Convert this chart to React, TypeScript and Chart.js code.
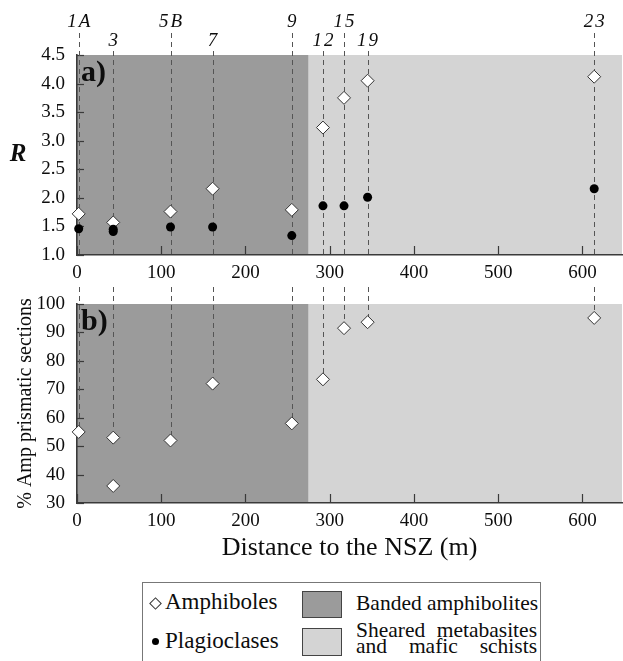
import React, { useEffect, useRef } from "react";
import { Chart, registerables } from "chart.js";
Chart.register(...registerables);

const FONT = "'Liberation Serif', 'DejaVu Serif', serif";
const INK = "#0d0d0d";
const AXIS = "#3a3a3a";
const DASH = "#555555";

// Samples (distance to the NSZ, m)
const sampleNames = ["1A", "3", "5B", "7", "9", "12", "15", "19", "23"];
const sampleDistance = [2, 43, 111, 161, 255, 292, 317, 345, 614];
const labelRow = [0, 1, 0, 1, 0, 1, 0, 1, 0];

// Panel a) shape ratio R
const amphiboleR = [1.72, 1.57, 1.76, 2.16, 1.79, 3.23, 3.75, 4.05, 4.12];
const plagDistance = [2, 43, 43, 111, 161, 255, 292, 317, 345, 614];
const plagioclaseR = [1.46, 1.45, 1.41, 1.49, 1.49, 1.34, 1.86, 1.86, 2.01, 2.16];

// Panel b) % Amp prismatic sections
const prismDistance = [2, 43, 43, 111, 161, 255, 292, 317, 345, 614];
const prismPercent = [55, 53, 36, 52, 72, 58, 73.5, 91.5, 93.6, 95.1];

// Lithological zones
const zoneStart = [0, 275];
const zoneEnd = [275, 647];
const zoneNames = ["Banded amphibolites", "Sheared metabasites and mafic schists"];
const zoneColors = ["#9b9b9b", "#d4d4d4"];

// Axes
const distanceMin = 0;
const distanceMax = 647;
const distanceStep = 100;
const rMin = 1.0;
const rMax = 4.5;
const rStep = 0.5;
const pctMin = 30;
const pctMax = 100;
const pctStep = 10;

function panelPlugin(panel: "a" | "b") {
  return {
    id: "panel_" + panel,
    beforeDraw(chart: any) {
      const { ctx, chartArea } = chart;
      const xs = chart.scales.x;
      ctx.save();
      zoneStart.forEach((s, i) => {
        const x0 = xs.getPixelForValue(s);
        const x1 = xs.getPixelForValue(zoneEnd[i]);
        ctx.fillStyle = zoneColors[i];
        ctx.fillRect(x0, chartArea.top, x1 - x0, chartArea.bottom - chartArea.top);
      });
      ctx.restore();
    },
    beforeDatasetsDraw(chart: any) {
      const { ctx, chartArea } = chart;
      const xs = chart.scales.x;
      const ys = chart.scales.y;
      ctx.save();
      // inner tick marks
      ctx.strokeStyle = AXIS;
      ctx.lineWidth = 1.2;
      ctx.setLineDash([]);
      xs.ticks.forEach((t: any) => {
        const px = Math.round(xs.getPixelForValue(t.value)) + 0.5;
        ctx.beginPath();
        ctx.moveTo(px, chartArea.bottom);
        ctx.lineTo(px, chartArea.bottom - 9);
        ctx.stroke();
      });
      ys.ticks.forEach((t: any) => {
        const py = Math.round(ys.getPixelForValue(t.value)) + 0.5;
        ctx.beginPath();
        ctx.moveTo(chartArea.left, py);
        ctx.lineTo(chartArea.left + 7, py);
        ctx.stroke();
      });
      // dashed sample lines
      ctx.strokeStyle = DASH;
      ctx.lineWidth = 1;
      ctx.setLineDash([5, 4]);
      sampleDistance.forEach((d, i) => {
        const px = Math.round(xs.getPixelForValue(d)) + 0.5;
        let y0: number, y1: number;
        if (panel === "a") {
          y0 = labelRow[i] === 0 ? 33 : 51;
          y1 = chartArea.bottom;
        } else {
          let top = -Infinity;
          prismDistance.forEach((pd, j) => {
            if (pd === d && prismPercent[j] > top) top = prismPercent[j];
          });
          y0 = chartArea.top - 17;
          y1 = ys.getPixelForValue(top);
        }
        ctx.beginPath();
        ctx.moveTo(px, y0);
        ctx.lineTo(px, y1);
        ctx.stroke();
      });
      ctx.setLineDash([]);
      // sample names
      if (panel === "a") {
        ctx.fillStyle = INK;
        ctx.font = "italic 19px " + FONT;
        ctx.textAlign = "center";
        ctx.textBaseline = "middle";
        try { (ctx as any).letterSpacing = "2px"; } catch (e) {}
        sampleDistance.forEach((d, i) => {
          const px = xs.getPixelForValue(d);
          ctx.fillText(sampleNames[i], px + 1, labelRow[i] === 0 ? 22 : 41);
        });
        try { (ctx as any).letterSpacing = "0px"; } catch (e) {}
        // axis symbol R
        ctx.font = "italic bold 25px " + FONT;
        ctx.fillText("R", 18, (chartArea.top + chartArea.bottom) / 2);
      }
      // panel letter
      ctx.fillStyle = INK;
      ctx.font = "bold 30px " + FONT;
      ctx.textAlign = "left";
      ctx.textBaseline = "top";
      ctx.fillText(panel + ")", chartArea.left + 4, chartArea.top + 3);
      ctx.restore();
    },
  };
}

function xScale(withTitle: boolean, height: number) {
  return {
    type: "linear",
    min: distanceMin,
    max: distanceMax,
    afterFit: (s: any) => {
      s.height = height;
      s.paddingLeft = 0;
      s.paddingRight = 0;
    },
    grid: { display: false, drawTicks: false },
    border: { display: true, color: AXIS, width: 1.6 },
    ticks: {
      stepSize: distanceStep,
      includeBounds: false,
      padding: 7,
      color: INK,
      font: { family: FONT, size: 19 },
      maxRotation: 0,
    },
    title: withTitle
      ? {
          display: true,
          text: "Distance to the NSZ (m)",
          color: INK,
          font: { family: FONT, size: 26, lineHeight: 1.2 },
          padding: { top: 0, bottom: 1 },
        }
      : { display: false },
  };
}

function yScale(min: number, max: number, step: number, fixed: number, title?: string) {
  return {
    type: "linear",
    min,
    max,
    afterFit: (s: any) => {
      s.width = 77;
      s.paddingTop = 0;
      s.paddingBottom = 0;
    },
    grid: { display: false, drawTicks: false },
    border: { display: true, color: AXIS, width: 1.6 },
    ticks: {
      stepSize: step,
      padding: 12,
      color: INK,
      font: { family: FONT, size: 19 },
      callback: (v: any) => Number(v).toFixed(fixed),
    },
    title: title
      ? {
          display: true,
          text: title,
          color: INK,
          font: { family: FONT, size: 20, lineHeight: 1.2 },
          padding: { top: 14, bottom: 0 },
        }
      : { display: false },
  };
}

function PanelChart(props: { panel: "a" | "b"; top: number; height: number }) {
  const ref = useRef<HTMLCanvasElement | null>(null);
  useEffect(() => {
    if (!ref.current) return;
    const isA = props.panel === "a";
    const datasets: any[] = isA
      ? [
          {
            label: "Plagioclases",
            data: plagDistance.map((x, i) => ({ x, y: plagioclaseR[i] })),
            pointStyle: "circle",
            pointRadius: 4.5,
            backgroundColor: "#000",
            borderColor: "#000",
            borderWidth: 0,
            clip: false,
          },
          {
            label: "Amphiboles",
            data: sampleDistance.map((x, i) => ({ x, y: amphiboleR[i] })),
            pointStyle: "rectRot",
            pointRadius: 6.5,
            backgroundColor: "#ffffff",
            borderColor: "#333",
            borderWidth: 1,
            clip: false,
          },
        ]
      : [
          {
            label: "Amphiboles",
            data: prismDistance.map((x, i) => ({ x, y: prismPercent[i] })),
            pointStyle: "rectRot",
            pointRadius: 6.5,
            backgroundColor: "#ffffff",
            borderColor: "#333",
            borderWidth: 1,
            clip: false,
          },
        ];
    const chart = new Chart(ref.current, {
      type: "scatter",
      data: { datasets },
      options: {
        animation: false,
        responsive: false,
        events: [],
        layout: {
          autoPadding: false,
          padding: isA
            ? { top: 55, right: 1, left: 0, bottom: 0 }
            : { top: 19, right: 1, left: 0, bottom: 0 },
        },
        plugins: { legend: { display: false }, tooltip: { enabled: false } },
        scales: {
          x: xScale(!isA, isA ? 35 : 62),
          y: isA
            ? yScale(rMin, rMax, rStep, 1)
            : yScale(pctMin, pctMax, pctStep, 0, "% Amp prismatic sections"),
        },
      } as any,
      plugins: [panelPlugin(props.panel)],
    } as any);
    return () => chart.destroy();
  }, []);
  return (
    <canvas
      ref={ref}
      width={623}
      height={props.height}
      style={{ position: "absolute", left: 0, top: props.top, width: 623, height: props.height, display: "block" }}
    />
  );
}

const txt: React.CSSProperties = {
  position: "absolute",
  fontFamily: FONT,
  fontSize: 21.5,
  color: INK,
  lineHeight: "22px",
  whiteSpace: "nowrap",
};

export default function App() {
  return (
    <div style={{ position: "absolute", left: 0, top: 0, width: 623, height: 661, background: "#fff", overflow: "hidden" }}>
      <PanelChart panel="a" top={0} height={290} />
      <PanelChart panel="b" top={285} height={280} />
      {/* legend */}
      <div style={{ position: "absolute", left: 142, top: 582, width: 399, height: 100, border: "1px solid #777", boxSizing: "border-box" }} />
      <div style={{ position: "absolute", left: 151, top: 599, width: 7, height: 7, border: "1px solid #333", background: "#fff", transform: "rotate(45deg)" }} />
      <div style={{ ...txt, fontSize: 23, left: 165, top: 591 }}>Amphiboles</div>
      <div style={{ position: "absolute", left: 152, top: 638, width: 7, height: 7, borderRadius: "50%", background: "#000" }} />
      <div style={{ ...txt, fontSize: 23, left: 165, top: 630 }}>Plagioclases</div>
      <div style={{ position: "absolute", left: 302, top: 591, width: 40, height: 27, border: "1px solid #444", background: zoneColors[0], boxSizing: "border-box" }} />
      <div style={{ position: "absolute", left: 302, top: 628, width: 40, height: 28, border: "1px solid #444", background: zoneColors[1], boxSizing: "border-box" }} />
      <div style={{ ...txt, left: 356, top: 592 }}>{zoneNames[0]}</div>
      <div
        style={{
          ...txt,
          left: 356,
          top: 622,
          width: 181,
          whiteSpace: "normal",
          lineHeight: "16px",
          textAlign: "justify",
          textAlignLast: "justify" as any,
        }}
      >
        {zoneNames[1]}
      </div>
    </div>
  );
}
